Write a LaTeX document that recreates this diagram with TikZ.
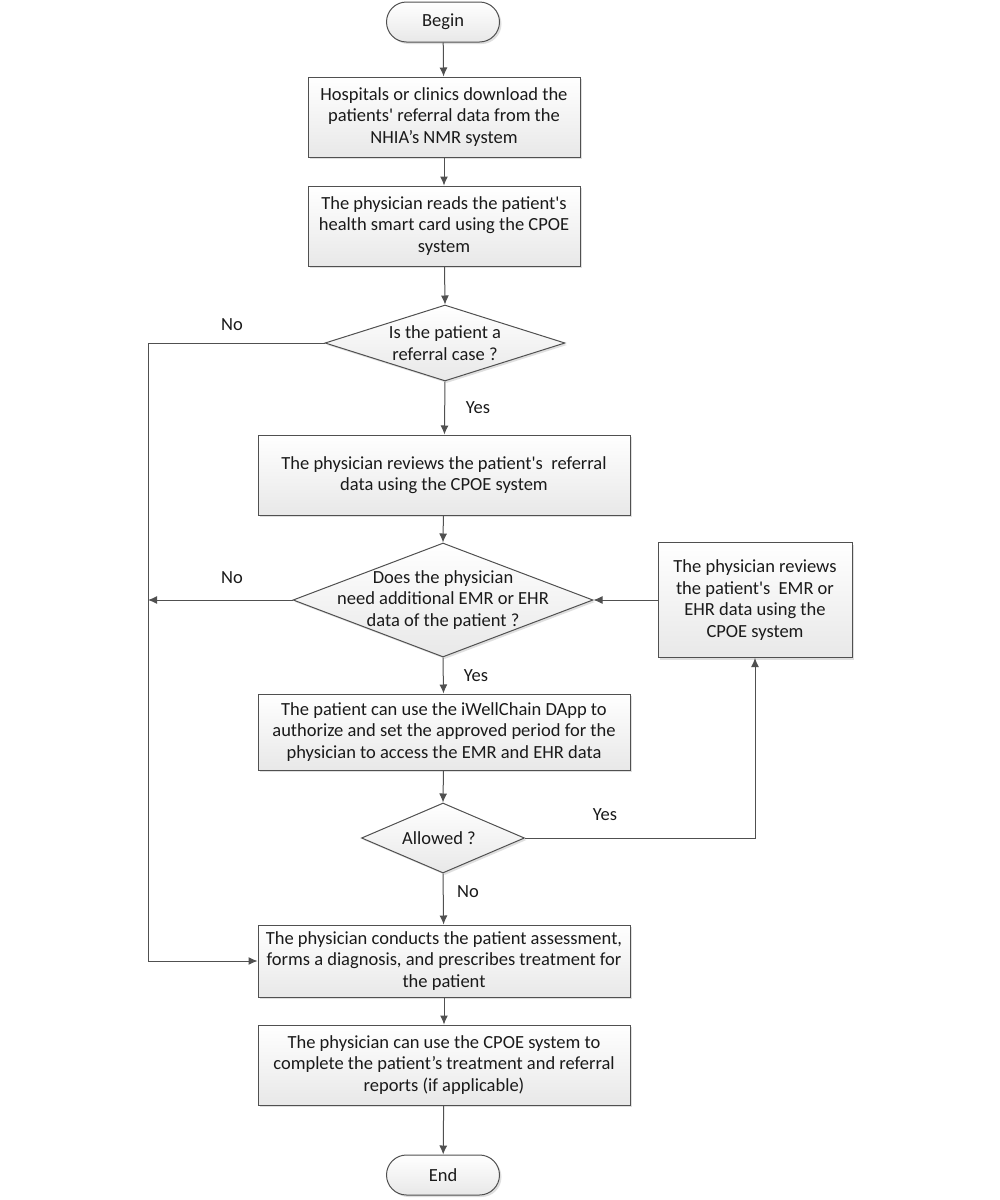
\documentclass[tikz,border=0pt]{standalone}
\usepackage{fontspec}
\setmainfont{Carlito}
\usetikzlibrary{shapes.geometric,shapes.misc,arrows.meta,shadows}
\definecolor{lc}{HTML}{505050}
\definecolor{tc}{HTML}{1A1A1A}
\newcommand{\sq}{\textquotesingle}
\begin{document}
\begin{tikzpicture}[x=1pt,y=-1pt,
  every node/.style={font=\fontsize{18.5}{21.5}\selectfont, text=tc},
  proc/.style={draw=lc, line width=1pt, top color=white, bottom color=black!9, align=center, inner sep=0pt,
     drop shadow={shadow xshift=2pt, shadow yshift=-2pt, fill=black!25, opacity=0.5}},
  term/.style={draw=lc, line width=1pt, rounded rectangle, top color=white, bottom color=black!9, inner sep=0pt,
     minimum width=113pt, minimum height=40pt,
     drop shadow={shadow xshift=2pt, shadow yshift=-2pt, fill=black!25, opacity=0.5}},
  dec/.style={draw=lc, line width=1pt, diamond, top color=white, bottom color=black!9, inner sep=0pt,
     drop shadow={shadow xshift=2pt, shadow yshift=-2pt, fill=black!25, opacity=0.5}},
  arr/.style={draw=lc, line width=1pt, -{Latex[length=9pt,width=8pt]}},
  lbl/.style={font=\fontsize{18.5}{21.5}\selectfont}
]
\useasboundingbox (0,0) rectangle (1000,1200);

\node[term] (begin) at (443,22) {Begin};
\node[proc, minimum width=272pt, minimum height=80pt] (b1) at (444,117)
  {Hospitals or clinics download the\\patients\sq{} referral data from the\\NHIA’s NMR system};
\node[proc, minimum width=272pt, minimum height=80pt] (b2) at (444,226)
  {The physician reads the patient\sq s\\health smart card using the CPOE\\system};
\node[dec, minimum width=240pt, minimum height=76pt, aspect=3.16] (d1) at (445,343) {};
\node at (445,343) [align=center] {Is the patient a\\referral case ?};
\node[proc, minimum width=372pt, minimum height=80pt] (b3) at (444,475)
  {The physician reviews the patient\sq s~ referral\\data using the CPOE system};
\node[dec, minimum width=300pt, minimum height=114pt, aspect=2.63] (d2) at (443,600) {};
\node at (443,600) [align=center] {Does the physician\\need additional EMR or EHR\\data of the patient ?};
\node[proc, minimum width=194pt, minimum height=115pt] (br) at (755,600)
  {The physician reviews\\the patient\sq s~ EMR or\\EHR data using the\\CPOE system};
\node[proc, minimum width=372pt, minimum height=76pt] (b4) at (444,732)
  {The patient can use the iWellChain DApp to\\authorize and set the approved period for the\\physician to access the EMR and EHR data};
\node[dec, minimum width=163pt, minimum height=70pt, aspect=2.33] (d3) at (443,838) {};
\node at (439,838) {Allowed ?};
\node[proc, minimum width=372pt, minimum height=72pt] (b5) at (444,961)
  {The physician conducts the patient assessment,\\forms a diagnosis, and prescribes treatment for\\the patient};
\node[proc, minimum width=372pt, minimum height=80pt] (b6) at (444,1065)
  {The physician can use the CPOE system to\\complete the patient’s treatment and referral\\reports (if applicable)};
\node[term] (end) at (443,1175) {End};

\coordinate (c1) at (148,343);
\coordinate (c2) at (148,961);
\coordinate (c3) at (148,600);
\coordinate (c4) at (755,838);

\draw[arr] (begin) -- (b1);
\draw[arr] (b1) -- (b2);
\draw[arr] (b2) -- (d1.north);
\draw[arr] (d1.south) -- (b3);
\draw[arr] (b3) -- (d2.north);
\draw[arr] (d2.south) -- (b4);
\draw[arr] (b4) -- (d3.north);
\draw[arr] (d3.south) -- (b5);
\draw[arr] (b5) -- (b6);
\draw[arr] (b6) -- (end);
\draw[arr] (d1.west) -- (c1) -- (c2) -- (b5.west);
\draw[arr] (d2.west) -- (c3);
\draw[arr] (br.west) -- (d2.east);
\draw[arr] (d3.east) -- (c4) -- (br.south);

\node[lbl] (no1) at (232,325) {No};
\node[lbl] (yes1) at (478,408) {Yes};
\node[lbl] (no2) at (232,578) {No};
\node[lbl] (yes2) at (476,676) {Yes};
\node[lbl] (yes3) at (605,815) {Yes};
\node[lbl] (no3) at (468,892) {No};
\end{tikzpicture}
\end{document}
